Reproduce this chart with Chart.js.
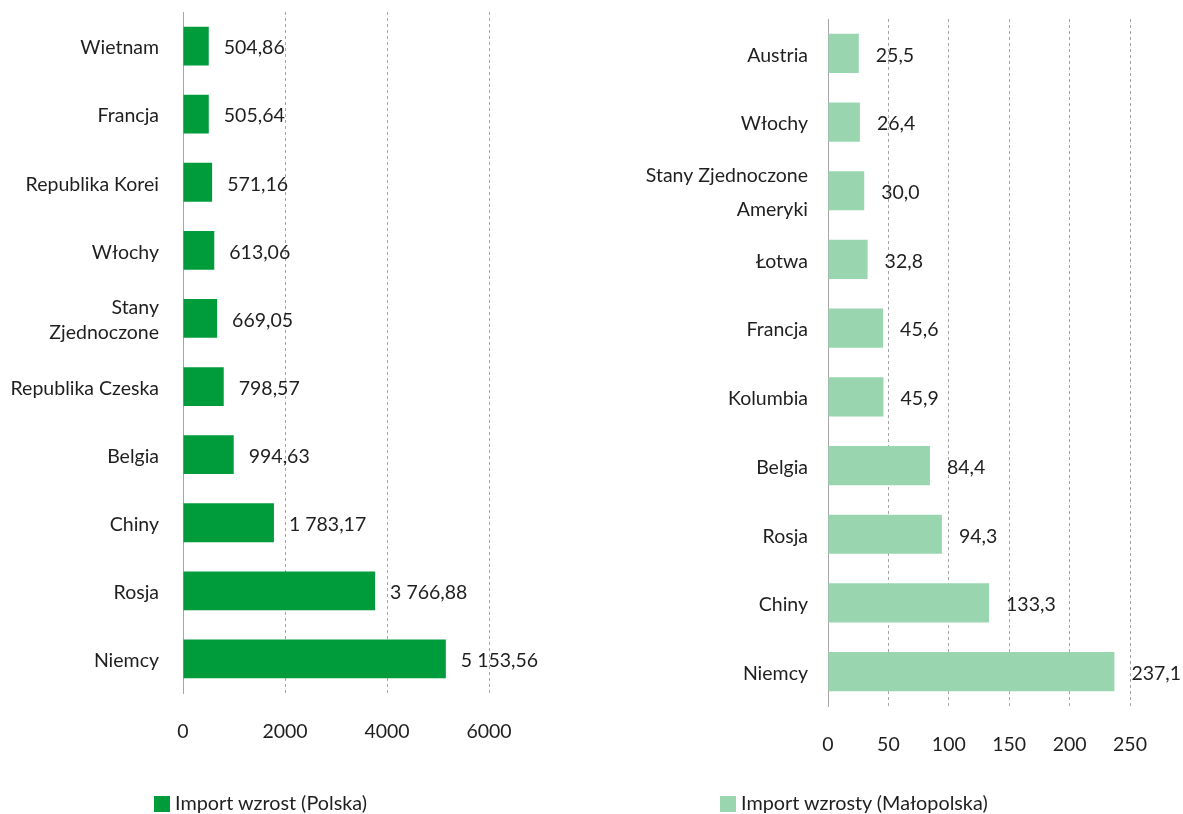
<!DOCTYPE html>
<html>
<head>
<meta charset="utf-8">
<script src="https://cdn.jsdelivr.net/npm/chart.js@4"></script>
<style>
  html, body { margin: 0; padding: 0; background: #fff; }
  body { width: 1183px; height: 814px; position: relative; overflow: hidden; font-family: Lato, "Open Sans", sans-serif; }
  #c1 { position: absolute; left: 0; top: 0; }
  #c2 { position: absolute; left: 600px; top: 0; }
  .leg { position: absolute; top: 791px; font-size: 19.8px; color: #1f1f1f; white-space: nowrap; line-height: 22px; }
  .leg span.sw { display: inline-block; width: 16px; height: 16px; vertical-align: -2px; margin-right: 5px; }
</style>
</head>
<body>
<canvas id="c1" width="560" height="814"></canvas>
<canvas id="c2" width="583" height="814"></canvas>
<div class="leg" style="left:154px"><span class="sw" style="background:#009B3A"></span>Import wzrost (Polska)</div>
<div class="leg" style="left:720px"><span class="sw" style="background:#99D6AF"></span>Import wzrosty (Małopolska)</div>
<script>
// ---- data ----
const plCategories = ["Wietnam", "Francja", "Republika Korei", "Włochy", ["Stany", "Zjednoczone"], "Republika Czeska", "Belgia", "Chiny", "Rosja", "Niemcy"];
const plValues = [504.86, 505.64, 571.16, 613.06, 669.05, 798.57, 994.63, 1783.17, 3766.88, 5153.56];
const plTicks = [0, 2000, 4000, 6000];

const mpCategories = ["Austria", "Włochy", ["Stany Zjednoczone", "Ameryki"], "Łotwa", "Francja", "Kolumbia", "Belgia", "Rosja", "Chiny", "Niemcy"];
const mpValues = [25.5, 26.4, 30.0, 32.8, 45.6, 45.9, 84.4, 94.3, 133.3, 237.1];
const mpTicks = [0, 50, 100, 150, 200, 250];

const seriesNames = ["Import wzrost (Polska)", "Import wzrosty (Małopolska)"];
// ---------------

const FONT = "Lato, 'Open Sans', sans-serif";
const FS = 19.5;
const TXT = "#1f1f1f";

function fmt(v, dec) {
  const s = v.toFixed(dec).split(".");
  const int = s[0].replace(/\B(?=(\d{3})+(?!\d))/g, " ");
  return dec ? int + "," + s[1] : int;
}

function labelPlugin(dec, gap) {
  return {
    id: "valLabels",
    afterDatasetsDraw(chart) {
      const ctx = chart.ctx;
      const meta = chart.getDatasetMeta(0);
      const data = chart.data.datasets[0].data;
      ctx.save();
      ctx.font = FS + "px " + FONT;
      ctx.fillStyle = TXT;
      ctx.textAlign = "left";
      ctx.textBaseline = "middle";
      meta.data.forEach((bar, i) => {
        ctx.fillText(fmt(data[i], dec), bar.x + gap, bar.y + 2);
      });
      ctx.restore();
    }
  };
}

function makeChart(id, cats, vals, ticks, color, name, yWidth, pad, lineH, dec, yPad, gap) {
  const maxV = ticks[ticks.length - 1];
  const step = ticks[1] - ticks[0];
  return new Chart(document.getElementById(id), {
    type: "bar",
    data: {
      labels: cats,
      datasets: [{
        label: name,
        data: vals,
        backgroundColor: color,
        borderWidth: 0,
        barPercentage: 0.57,
        categoryPercentage: 1.0
      }]
    },
    options: {
      indexAxis: "y",
      responsive: false,
      animation: false,
      layout: { padding: pad },
      plugins: { legend: { display: false }, tooltip: { enabled: false } },
      scales: {
        x: {
          min: 0, max: maxV,
          afterBuildTicks(scale) { scale.ticks = ticks.map(v => ({ value: v })); },
          afterFit(scale) { scale.height = 50; scale.paddingLeft = 0; scale.paddingRight = 0; },
          ticks: {
            color: TXT, font: { family: FONT, size: FS }, padding: 27, maxRotation: 0, stepSize: step,
            callback: (v) => String(v)
          },
          grid: {
            drawTicks: false,
            color: (c) => (c.tick && c.tick.value === 0) ? "rgba(0,0,0,0)" : "#a6a6a6",
            lineWidth: 1
          },
          border: { display: false, dash: [3, 3] }
        },
        y: {
          afterFit(scale) { scale.width = yWidth; scale.paddingTop = 0; scale.paddingBottom = 0; },
          ticks: { color: TXT, font: { family: FONT, size: FS, lineHeight: lineH }, padding: yPad, autoSkip: false, labelOffset: 2 },
          grid: { display: true, drawTicks: false, color: "rgba(0,0,0,0)" },
          border: { display: true, color: "#a6a6a6", width: 1 }
        }
      }
    },
    plugins: [labelPlugin(dec, gap)]
  });
}

makeChart("c1", plCategories, plValues, plTicks, "#009B3A", seriesNames[0], 183,
  { left: 0, right: 71, top: 12, bottom: 71 }, 1.3, 2, 24, 15);
makeChart("c2", mpCategories, mpValues, mpTicks, "#99D6AF", seriesNames[1], 228,
  { left: 0, right: 53, top: 19, bottom: 58 }, 1.75, 1, 20, 17);
</script>
</body>
</html>
